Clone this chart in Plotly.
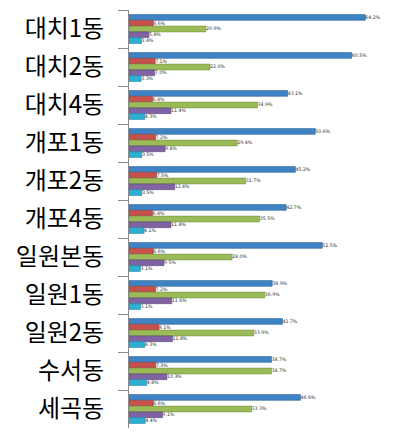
import plotly.graph_objects as go

categories = ["대치1동", "대치2동", "대치4동", "개포1동", "개포2동", "개포4동",
              "일원본동", "일원1동", "일원2동", "수서동", "세곡동"]
s_blue = [64.2, 60.5, 43.1, 50.6, 45.2, 42.7, 52.5, 38.9, 41.7, 38.7, 46.6]
s_red = [6.6, 7.1, 6.4, 7.2, 7.5, 6.4, 6.6, 7.2, 8.1, 7.3, 6.6]
s_green = [20.9, 22.0, 34.9, 29.4, 31.7, 35.5, 28.0, 36.9, 33.9, 38.7, 33.3]
s_purple = [5.4, 7.0, 11.4, 9.8, 12.4, 11.4, 9.5, 11.6, 11.8, 10.3, 9.1]
s_cyan = [3.4, 3.3, 4.3, 3.5, 3.5, 4.1, 3.1, 3.1, 4.3, 4.8, 4.4]

series = [
    (s_blue, "#3F83C4", "#2F6798"),
    (s_red, "#C8504D", "#9A3B39"),
    (s_green, "#9BBB59", "#76913F"),
    (s_purple, "#7F63A3", "#5F4A7C"),
    (s_cyan, "#2FAFD3", "#1E87A5"),
]

fig = go.Figure()
for vals, col, edge in series:
    fig.add_trace(go.Bar(
        y=categories, x=vals, orientation="h",
        marker=dict(color=col, line=dict(color=edge, width=0.6)),
        text=[f"{v:.1f}%" for v in vals], textposition="outside",
        textfont=dict(size=6.5, color="#333333", family="DejaVu Sans"),
        cliponaxis=False, showlegend=False,
    ))

fig.update_layout(
    width=397, height=441,
    margin=dict(l=129, r=0, t=10, b=13),
    barmode="group", bargap=0.24, bargroupgap=0.0,
    plot_bgcolor="white", paper_bgcolor="white",
    xaxis=dict(range=[0, 72.8], visible=False),
    yaxis=dict(autorange="reversed", type="category",
               tickson="boundaries", ticks="outside", ticklen=10,
               tickcolor="#8a8a8a", showline=True, linecolor="#8a8a8a",
               linewidth=1, ticklabelstandoff=19,
               tickfont=dict(size=24, color="black", family="Noto Sans CJK KR")),
)
fig.write_html("out.html")
